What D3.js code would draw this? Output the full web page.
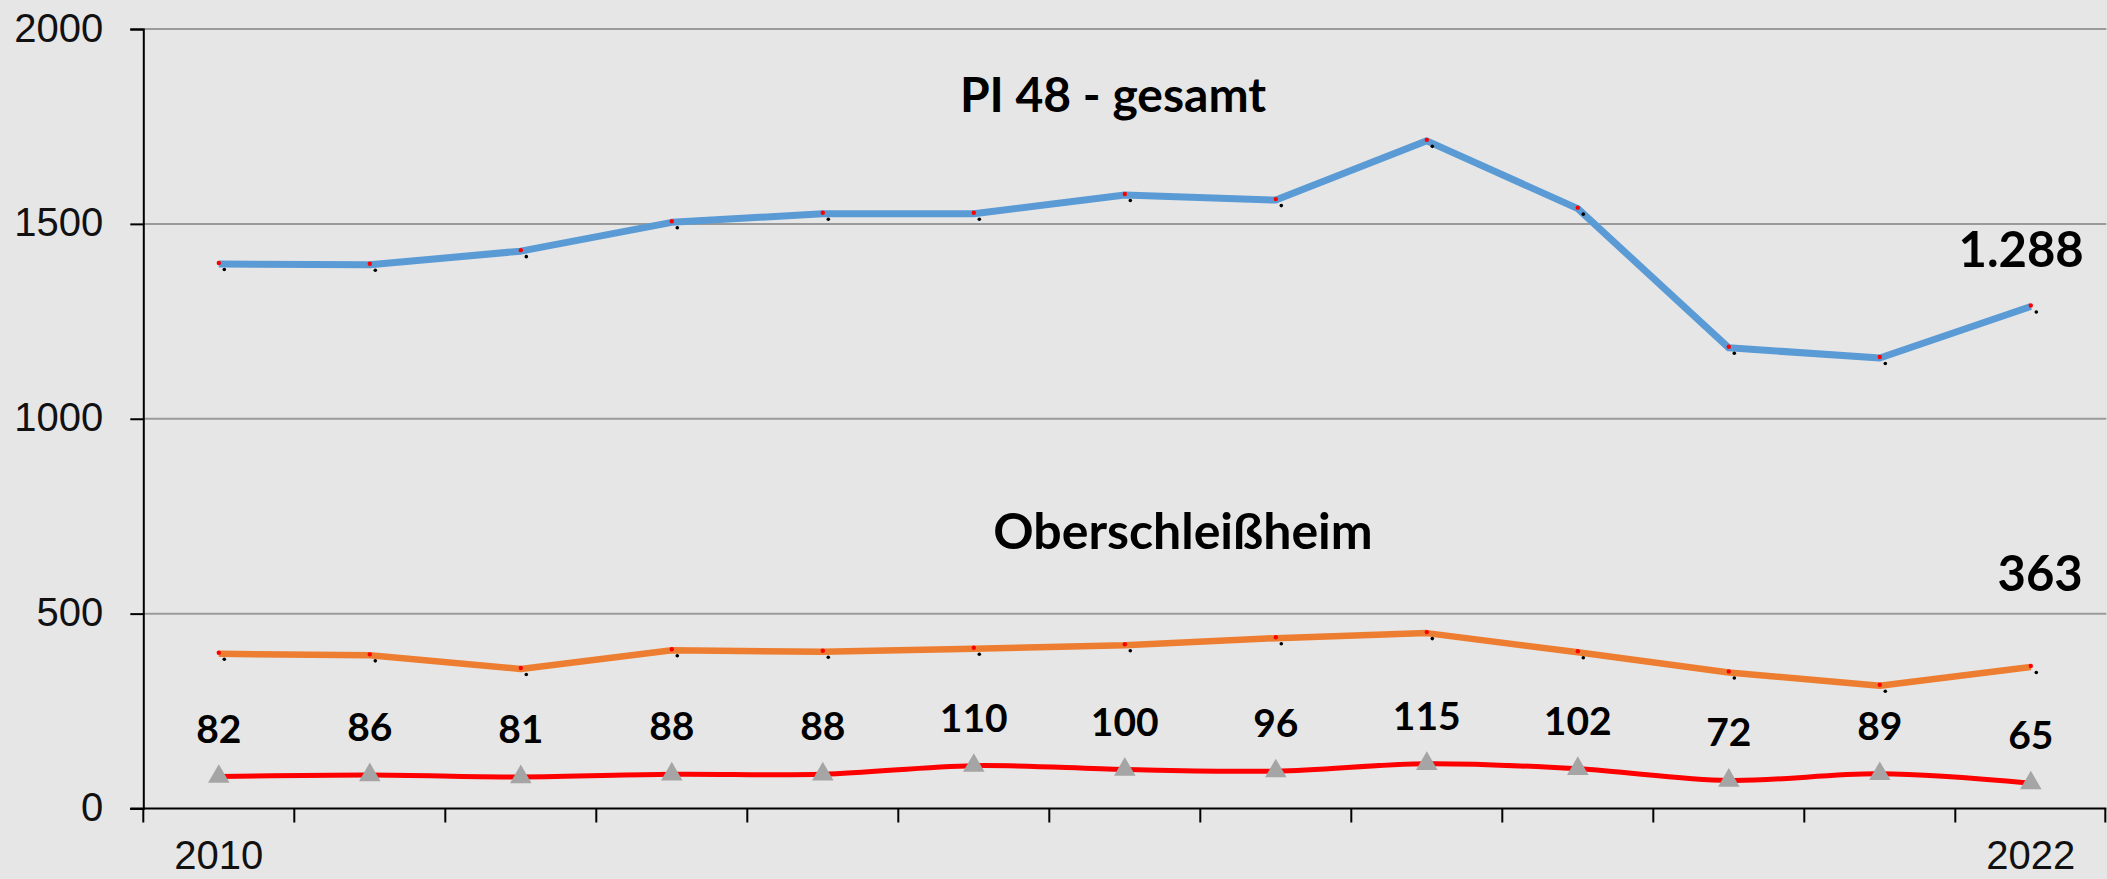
<!DOCTYPE html>
<html>
<head>
<meta charset="utf-8">
<script src="https://cdn.jsdelivr.net/npm/d3@7"></script>
<style>
  body { margin: 0; background: #e6e6e6; }
  svg { display: block; }
  .axis-label { font-family: 'Liberation Sans', Arial, sans-serif; font-size: 40px; fill: #111; }
  .bold { font-family: Lato, sans-serif; font-weight: bold; fill: #000; }
</style>
</head>
<body>
<div id="chart"></div>
<script>
const years = [2010, 2011, 2012, 2013, 2014, 2015, 2016, 2017, 2018, 2019, 2020, 2021, 2022];
const gesamt = [1397, 1395, 1430, 1504, 1526, 1526, 1574, 1561, 1713, 1539, 1182, 1156, 1288];
const oberschleissheim = [397, 393, 358, 406, 402, 410, 419, 437, 450, 401, 349, 315, 363];
const ortsteil = [82, 86, 81, 88, 88, 110, 100, 96, 115, 102, 72, 89, 65];
const yTicks = [0, 500, 1000, 1500, 2000];

const width = 2107;
const height = 879;

const svg = d3.select('#chart')
	.append('svg')
	.attr('width', width)
	.attr('height', height);

const x = d3.scaleBand()
	.domain(years)
	.range([143.3, 2106.3]);

const y = d3.scaleLinear()
	.domain([0, 2000])
	.range([808.5, 29]);

const cx = (d, i) => x(years[i]) + x.bandwidth() / 2;

// gridlines
svg.selectAll('.grid')
	.data(yTicks.filter((d) => d > 0))
	.join('line')
	.attr('class', 'grid')
	.attr('x1', x.range()[0])
	.attr('x2', x.range()[1])
	.attr('y1', (d) => y(d))
	.attr('y2', (d) => y(d))
	.attr('stroke', '#9a9a9a')
	.attr('stroke-width', 2);

// y axis
const yAxis = svg.append('g')
	.attr('transform', `translate(${x.range()[0]},0)`)
	.call(d3.axisLeft(y).tickValues(yTicks).tickSize(13).tickPadding(27).tickFormat(d3.format('d')));
yAxis.select('.domain').attr('stroke', '#000').attr('stroke-width', 2);
yAxis.selectAll('.tick line').attr('stroke', '#000').attr('stroke-width', 2);
yAxis.selectAll('.tick text')
	.attr('class', 'axis-label')
	.attr('font-size', 41)
	.attr('fill', null)
	.attr('dy', '0.3em');

// x axis
svg.append('line')
	.attr('x1', x.range()[0] - 13)
	.attr('x2', x.range()[1])
	.attr('y1', y(0))
	.attr('y2', y(0))
	.attr('stroke', '#000')
	.attr('stroke-width', 2);

const boundaries = years.map((d) => x(d)).concat([x.range()[1] - 1]);
svg.selectAll('.xtick')
	.data(boundaries)
	.join('line')
	.attr('class', 'xtick')
	.attr('x1', (d) => d)
	.attr('x2', (d) => d)
	.attr('y1', y(0))
	.attr('y2', y(0) + 14)
	.attr('stroke', '#000')
	.attr('stroke-width', 2);

svg.selectAll('.xlabel')
	.data([years[0], years[years.length - 1]])
	.join('text')
	.attr('class', 'axis-label')
	.attr('text-anchor', 'middle')
	.attr('x', (d) => x(d) + x.bandwidth() / 2)
	.attr('y', 869)
	.text((d) => d);

// lines
const straight = d3.line()
	.x(cx)
	.y((d) => y(d));

svg.append('path')
	.datum(gesamt)
	.attr('d', straight)
	.attr('fill', 'none')
	.attr('stroke', '#5b9bd5')
	.attr('stroke-width', 7)
	.attr('stroke-linejoin', 'round');

svg.append('path')
	.datum(oberschleissheim)
	.attr('d', straight)
	.attr('fill', 'none')
	.attr('stroke', '#ed7d31')
	.attr('stroke-width', 6.5)
	.attr('stroke-linejoin', 'round');

const smooth = d3.line()
	.x(cx)
	.y((d) => y(d))
	.curve(d3.curveCatmullRom.alpha(0.5));

svg.append('path')
	.datum(ortsteil)
	.attr('d', smooth)
	.attr('fill', 'none')
	.attr('stroke', '#ff0000')
	.attr('stroke-width', 5);

// small point markers on blue and orange
[gesamt, oberschleissheim].forEach((series, k) => {
	svg.selectAll('.dot-red-' + k)
		.data(series)
		.join('circle')
		.attr('cx', cx)
		.attr('cy', (d) => y(d) - 1)
		.attr('r', 2.2)
		.attr('fill', '#ff0000');
	svg.selectAll('.dot-black-' + k)
		.data(series)
		.join('circle')
		.attr('cx', (d, i) => cx(d, i) + 5.5)
		.attr('cy', (d) => y(d) + 5.5)
		.attr('r', 1.8)
		.attr('fill', '#000');
});

// triangles
svg.selectAll('.tri')
	.data(ortsteil)
	.join('path')
	.attr('class', 'tri')
	.attr('d', d3.symbol(d3.symbolTriangle, 200))
	.attr('transform', (d, i) => `translate(${cx(d, i)},${y(d)})`)
	.attr('fill', '#a5a5a5');

// value labels
svg.selectAll('.val')
	.data(ortsteil)
	.join('text')
	.attr('class', 'bold')
	.attr('text-anchor', 'middle')
	.attr('font-size', 39)
	.attr('x', cx)
	.attr('y', (d) => y(d) - 34)
	.text((d) => d);

// titles and end labels
svg.append('text')
	.attr('class', 'bold')
	.attr('text-anchor', 'middle')
	.attr('font-size', 48)
	.attr('x', 1113)
	.attr('y', 112)
	.text('PI 48 - gesamt');

svg.append('text')
	.attr('class', 'bold')
	.attr('text-anchor', 'middle')
	.attr('font-size', 50)
	.attr('x', 1183)
	.attr('y', 549)
	.text('Oberschleißheim');

const last = years.length - 1;
svg.append('text')
	.attr('class', 'bold')
	.attr('text-anchor', 'end')
	.attr('font-size', 49)
	.attr('x', cx(null, last) + 53)
	.attr('y', y(gesamt[last]) - 40)
	.text(d3.format(',')(gesamt[last]).replace(',', '.'));

svg.append('text')
	.attr('class', 'bold')
	.attr('text-anchor', 'end')
	.attr('font-size', 49)
	.attr('x', cx(null, last) + 52)
	.attr('y', y(oberschleissheim[last]) - 76)
	.text(oberschleissheim[last]);
</script>
</body>
</html>
